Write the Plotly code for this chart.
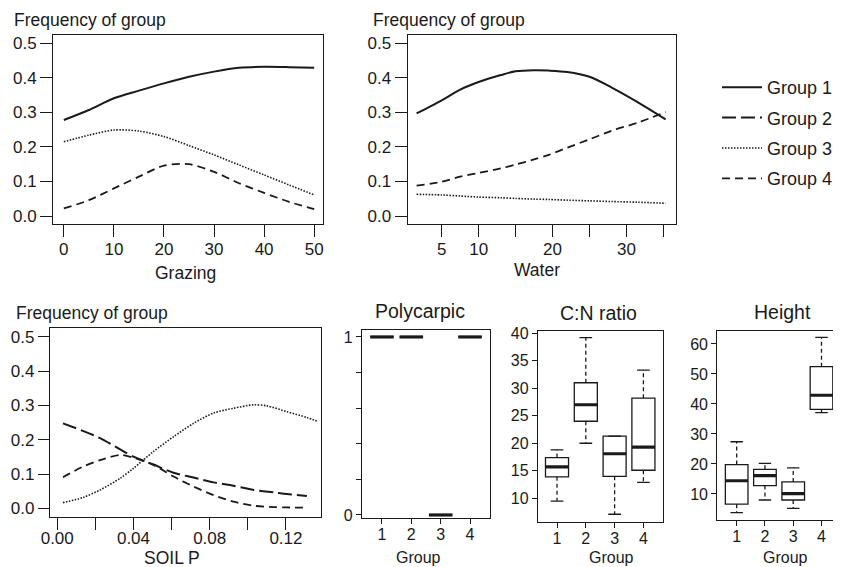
import plotly.graph_objects as go

# ---------------- data ----------------
grazing_x = [0, 5, 10, 15, 20, 25, 30, 35, 40, 45, 50]
grazing_g1 = [0.278, 0.307, 0.341, 0.363, 0.384, 0.403, 0.418, 0.429, 0.432, 0.431, 0.429]
grazing_g3 = [0.215, 0.234, 0.249, 0.246, 0.230, 0.204, 0.177, 0.148, 0.119, 0.090, 0.061]
grazing_g4 = [0.022, 0.046, 0.080, 0.114, 0.146, 0.150, 0.128, 0.095, 0.067, 0.041, 0.020]

water_x = [1.6, 5, 7.5, 10, 13, 15, 17.5, 19.5, 22, 25, 28, 31.5, 35.3]
water_g1 = [0.297, 0.335, 0.366, 0.388, 0.408, 0.419, 0.422, 0.421, 0.417, 0.403, 0.372, 0.330, 0.280]
water_g3 = [0.063, 0.061, 0.058, 0.055, 0.053, 0.051, 0.049, 0.048, 0.046, 0.044, 0.042, 0.040, 0.037]
water_g4 = [0.088, 0.099, 0.114, 0.125, 0.138, 0.149, 0.164, 0.177, 0.198, 0.222, 0.247, 0.270, 0.301]

soil_x = [0.003, 0.0135, 0.0225, 0.033, 0.040, 0.0505, 0.061, 0.0715, 0.082, 0.0925, 0.103, 0.1135, 0.1205, 0.131]
soil_g2 = [0.248, 0.226, 0.205, 0.172, 0.151, 0.128, 0.104, 0.090, 0.076, 0.066, 0.054, 0.047, 0.042, 0.036]
soil_g4 = [0.091, 0.122, 0.141, 0.156, 0.148, 0.127, 0.093, 0.064, 0.039, 0.020, 0.008, 0.004, 0.003, 0.002]
soil_x_g3 = [0.003, 0.0135, 0.0225, 0.033, 0.040, 0.0505, 0.061, 0.0715, 0.082, 0.0925, 0.103, 0.110, 0.1205, 0.131, 0.137]
soil_g3 = [0.017, 0.032, 0.054, 0.088, 0.117, 0.166, 0.209, 0.248, 0.278, 0.292, 0.302, 0.299, 0.282, 0.265, 0.253]

box_groups = [1, 2, 3, 4]

poly_lo = [1, 1, 0, 1]
poly_q1 = [1, 1, 0, 1]
poly_med = [1, 1, 0, 1]
poly_q3 = [1, 1, 0, 1]
poly_hi = [1, 1, 0, 1]

cn_lo = [9.5, 20.0, 7.1, 12.9]
cn_q1 = [13.9, 24.0, 14.0, 15.1]
cn_med = [15.7, 27.0, 18.1, 19.3]
cn_q3 = [17.4, 31.0, 21.3, 28.2]
cn_hi = [18.8, 39.2, 21.3, 33.3]

ht_lo = [3.8, 8.0, 5.2, 37.1]
ht_q1 = [6.6, 12.8, 8.0, 38.2]
ht_med = [14.4, 16.1, 10.1, 42.9]
ht_q3 = [19.8, 18.2, 14.0, 52.4]
ht_hi = [27.4, 20.2, 18.7, 62.2]

group_names = ["Group 1", "Group 2", "Group 3", "Group 4"]
y_freq_ticks = [0.0, 0.1, 0.2, 0.3, 0.4, 0.5]
y_freq_text = ["0.0", "0.1", "0.2", "0.3", "0.4", "0.5"]
grazing_ticks = [0, 10, 20, 30, 40, 50]
water_ticks = [5, 10, 15, 20, 25, 30, 35]
water_text = ["5", "10", "", "20", "", "30", ""]
soil_ticks = [0.0, 0.02, 0.04, 0.06, 0.08, 0.10, 0.12]
soil_text = ["0.00", "", "0.04", "", "0.08", "", "0.12"]
poly_ticks = [0, 0.2, 0.4, 0.6, 0.8, 1.0]
poly_text = ["0", "", "", "", "", "1"]
cn_ticks = [10, 15, 20, 25, 30, 35, 40]
ht_ticks = [10, 20, 30, 40, 50, 60]

# ---------------- helpers ----------------
# The page body keeps the browser's default 8px margin, so the figure is
# sized to fit the 841x567 window and the layout is placed relative to it.
WIN_W, WIN_H = 841, 567
OFF = 8
W, H = WIN_W - OFF, WIN_H - OFF
FONT = "Liberation Sans, Arial, Helvetica, sans-serif"
INK = "#1a1a1a"


def pxx(v):
    return (v - OFF) / W


def pyy(v):
    return 1 - (v - OFF) / H


STYLE = {
    1: dict(dash="solid", width=2.0),
    2: dict(dash="14px,5px", width=2.0),
    3: dict(dash="1.5px,1.5px", width=1.6),
    4: dict(dash="8px,5px", width=1.8),
}

fig = go.Figure()
shown = set()


def curve(x, y, g, xa, ya):
    show = g not in shown
    shown.add(g)
    fig.add_trace(go.Scatter(
        x=x, y=y, mode="lines", name=group_names[g - 1],
        line=dict(color=INK, width=STYLE[g]["width"], dash=STYLE[g]["dash"],
                  shape="spline", smoothing=0.8),
        xaxis=xa, yaxis=ya, showlegend=show, legendgroup=f"g{g}",
        legendrank=g, hoverinfo="skip"))


curve(grazing_x, grazing_g1, 1, "x", "y")
curve(grazing_x, grazing_g3, 3, "x", "y")
curve(grazing_x, grazing_g4, 4, "x", "y")
curve(water_x, water_g1, 1, "x2", "y2")
curve(water_x, water_g3, 3, "x2", "y2")
curve(water_x, water_g4, 4, "x2", "y2")
curve(soil_x, soil_g2, 2, "x3", "y3")
curve(soil_x_g3, soil_g3, 3, "x3", "y3")
curve(soil_x, soil_g4, 4, "x3", "y3")

BOXW = 0.8
CAPW = 0.22


def boxpanel(lo, q1, med, q3, hi, xa, ya):
    fig.add_trace(go.Box(
        x=box_groups, q1=q1, median=med, q3=q3, lowerfence=q1, upperfence=q3,
        width=BOXW, whiskerwidth=0, boxpoints=False, fillcolor="white",
        line=dict(color=INK, width=1.3), xaxis=xa, yaxis=ya,
        showlegend=False, hoverinfo="skip"))
    wx, wy, cx, cy, mx, my = [], [], [], [], [], []
    for g, a, b, m, c, d in zip(box_groups, lo, q1, med, q3, hi):
        wx += [g, g, None, g, g, None]
        wy += [c, d, None, b, a, None]
        cx += [g - CAPW, g + CAPW, None, g - CAPW, g + CAPW, None]
        cy += [d, d, None, a, a, None]
        mx += [g - BOXW / 2, g + BOXW / 2, None]
        my += [m, m, None]
    fig.add_trace(go.Scatter(x=wx, y=wy, mode="lines", line=dict(color=INK, width=1.3, dash="4px,3px"),
                             xaxis=xa, yaxis=ya, showlegend=False, hoverinfo="skip"))
    fig.add_trace(go.Scatter(x=cx, y=cy, mode="lines", line=dict(color=INK, width=1.3),
                             xaxis=xa, yaxis=ya, showlegend=False, hoverinfo="skip"))
    fig.add_trace(go.Scatter(x=mx, y=my, mode="lines", line=dict(color=INK, width=3.2),
                             xaxis=xa, yaxis=ya, showlegend=False, hoverinfo="skip"))


boxpanel(poly_lo, poly_q1, poly_med, poly_q3, poly_hi, "x4", "y4")
boxpanel(cn_lo, cn_q1, cn_med, cn_q3, cn_hi, "x5", "y5")
boxpanel(ht_lo, ht_q1, ht_med, ht_q3, ht_hi, "x6", "y6")


def axis(domain, rng, tickvals, ticktext, anchor, ticklen, size, mirror=True, standoff=0):
    return dict(domain=domain, range=rng, tickvals=tickvals, ticktext=ticktext,
                anchor=anchor, showline=True, linecolor=INK, linewidth=1.3,
                mirror=mirror, ticks="outside", ticklen=ticklen, tickwidth=1.3,
                tickcolor=INK, showgrid=False, zeroline=False, automargin=False,
                ticklabelstandoff=standoff,
                tickfont=dict(family=FONT, size=size, color=INK), tickangle=0)


top_y = [pyy(224), pyy(35)]
layout_axes = dict(
    xaxis=axis([pxx(53.3), pxx(322.7)], [-2.1, 51.7], grazing_ticks, [str(v) for v in grazing_ticks], "y", 12, 17, standoff=-3),
    yaxis=axis(top_y, [-0.023, 0.524], y_freq_ticks, y_freq_text, "x", 12, 17),
    xaxis2=axis([pxx(407.7), pxx(676)], [0.4, 36.7], water_ticks, water_text, "y2", 12, 17, standoff=-3),
    yaxis2=axis(top_y, [-0.023, 0.524], y_freq_ticks, y_freq_text, "x2", 12, 17),
    xaxis3=axis([pxx(50), pxx(321)], [-0.0038, 0.1384], soil_ticks, soil_text, "y3", 12, 17, standoff=-6),
    yaxis3=axis([pyy(516.7), pyy(328.3)], [-0.024, 0.525], y_freq_ticks, y_freq_text, "x3", 11, 17),
    xaxis4=axis([pxx(362), pxx(490)], [0.32, 4.68], box_groups, [str(g) for g in box_groups], "y4", 5, 16, standoff=-3),
    yaxis4=axis([pyy(518), pyy(330)], [-0.017, 1.039], poly_ticks, poly_text, "x4", 5, 16),
    xaxis5=axis([pxx(538), pxx(663)], [0.34, 4.68], box_groups, [str(g) for g in box_groups], "y5", 5, 16, standoff=-3),
    yaxis5=axis([pyy(521.7), pyy(331)], [5.75, 40.4], cn_ticks, [str(v) for v in cn_ticks], "x5", 5, 16),
    xaxis6=axis([pxx(717.3), 1.0], [0.315, 4.69], box_groups, [str(g) for g in box_groups], "y6", 5, 16, standoff=-3),
    yaxis6=axis([pyy(520), pyy(331)], [1.33, 64.3], ht_ticks, [str(v) for v in ht_ticks], "x6", 5, 16, mirror=False),
)


def ann(text, x, y, size, xanchor="center"):
    return dict(text=text, x=pxx(x), y=pyy(y), xref="paper", yref="paper",
                xanchor=xanchor, yanchor="middle", showarrow=False,
                font=dict(family=FONT, size=size, color=INK))


annotations = [
    ann("Frequency of group", 12, 20, 17.5, "left"),
    ann("Frequency of group", 371, 20, 17.5, "left"),
    ann("Frequency of group", 14, 313, 17.5, "left"),
    ann("Grazing", 185, 273, 17.5),
    ann("Water", 537, 270, 17.5),
    ann("SOIL P", 172, 558, 17.5),
    ann("Polycarpic", 420, 311, 19.5),
    ann("C:N ratio", 598, 313, 19.5),
    ann("Height", 782, 312, 19.5),
    ann("Group", 418, 557, 16),
    ann("Group", 611, 557, 16),
    ann("Group", 785, 557, 16),
]

fig.update_layout(
    width=W, height=H, margin=dict(l=0, r=0, t=0, b=0, pad=0, autoexpand=False),
    paper_bgcolor="white", plot_bgcolor="white",
    font=dict(family=FONT, color=INK),
    showlegend=True,
    legend=dict(x=pxx(717), y=pyy(69), xanchor="left", yanchor="top",
                font=dict(family=FONT, size=18, color=INK),
                bgcolor="rgba(0,0,0,0)", tracegroupgap=4, itemwidth=40,
                traceorder="grouped"),
    annotations=annotations,
    **layout_axes,
)

fig.write_html("out.html")
